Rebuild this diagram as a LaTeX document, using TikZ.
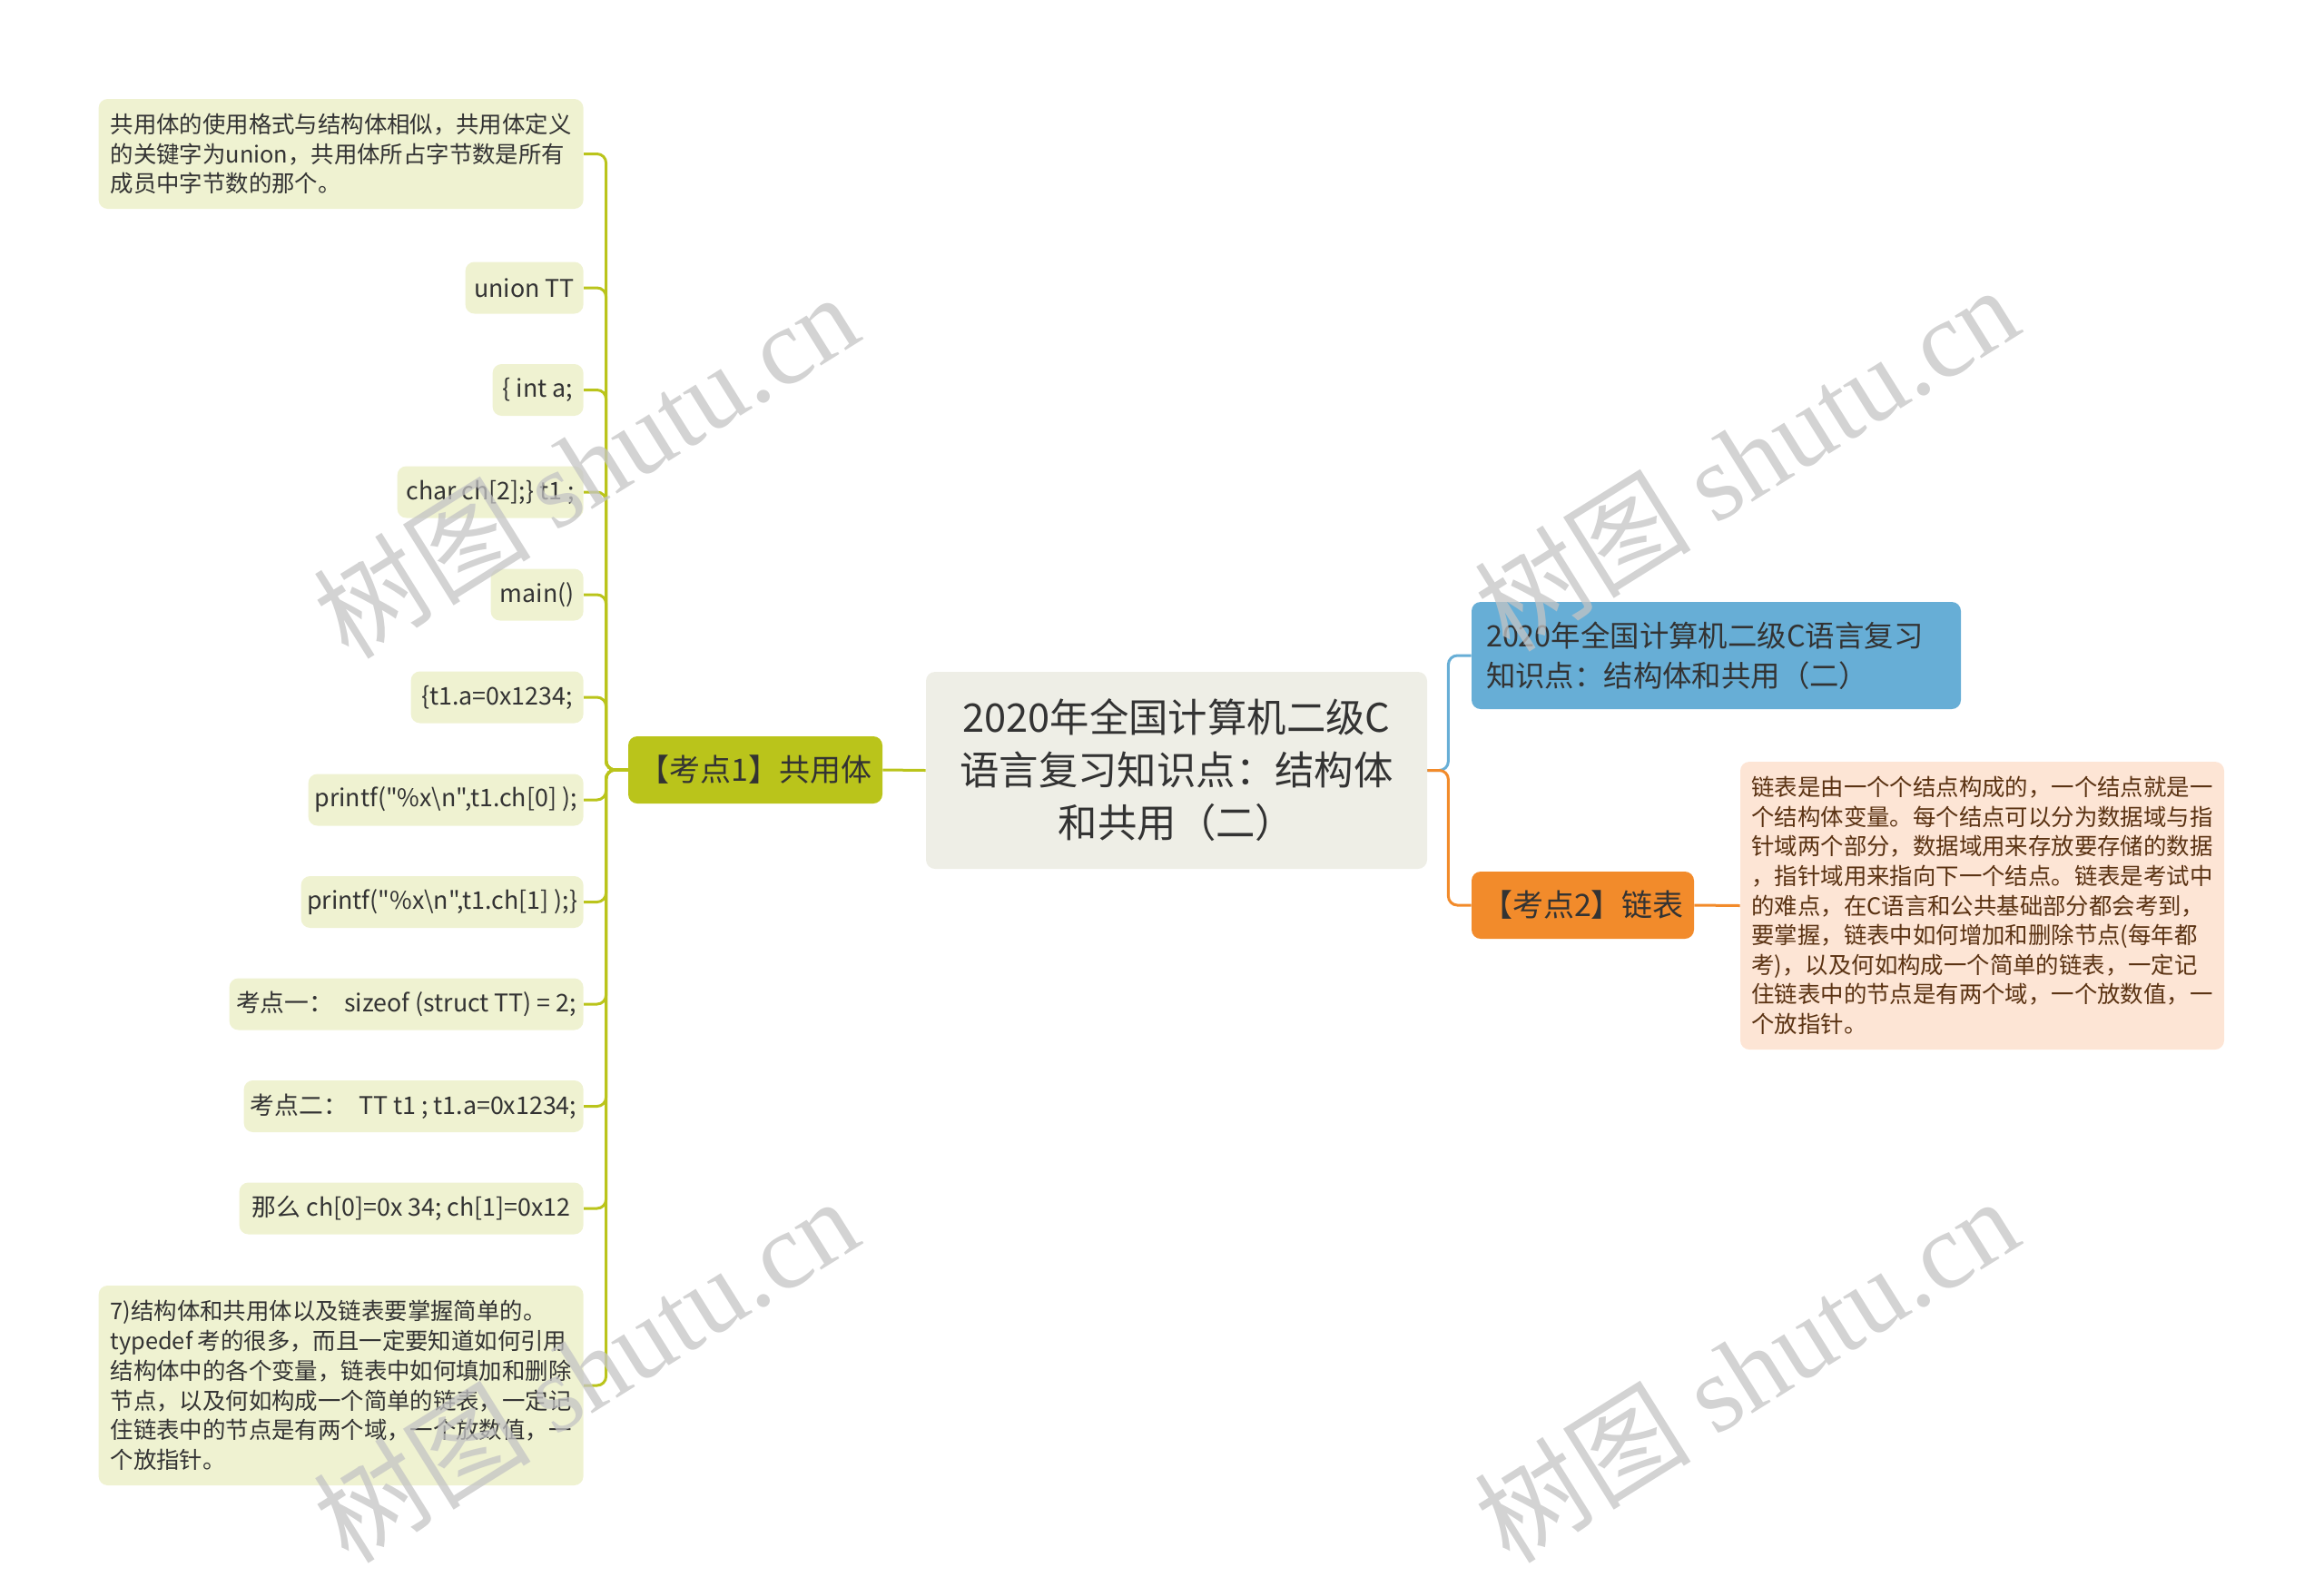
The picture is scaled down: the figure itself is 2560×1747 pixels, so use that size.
\documentclass[tikz,border=0pt]{standalone}
\usepackage{fontspec}
\setmainfont{Noto Sans CJK SC}
\newfontfamily\codefont{Noto Sans CJK SC}
\newfontfamily\wmserif{Liberation Serif}
\usepackage{tikz}

\definecolor{txtdark}{HTML}{333333}
\definecolor{rootfill}{HTML}{EEEEE6}
\definecolor{oliveA}{HTML}{BAC41B}
\definecolor{leafAfill}{HTML}{EFF2D1}
\definecolor{blueB}{HTML}{67AED6}
\definecolor{orangeC}{HTML}{F28B2B}
\definecolor{leafCfill}{HTML}{FDE5D5}
\definecolor{leafCtxt}{HTML}{5A3212}
\definecolor{wmgrey}{HTML}{C4C4C4}

\tikzset{
  every node/.style={text=txtdark, inner sep=0pt},
  rootbox/.style={fill=rootfill, rounded corners=5pt, align=center,
    font=\fontsize{21.7}{29}\selectfont, minimum width=276pt, minimum height=108.5pt},
  topicA/.style={fill=oliveA, rounded corners=5pt, font=\fontsize{17}{20}\selectfont,
    minimum width=140pt, minimum height=37pt},
  topicB/.style={fill=blueB, rounded corners=5pt, align=left, inner xsep=8pt,
    font=\fontsize{16.2}{22}\selectfont, text width=253.5pt, minimum height=59pt},
  topicC/.style={fill=orangeC, rounded corners=5pt, font=\fontsize{17}{20}\selectfont,
    minimum width=122.5pt, minimum height=37pt},
  leafA/.style={fill=leafAfill, rounded corners=5pt, anchor=east,
    font=\fontsize{13.4}{16.3}\selectfont, minimum height=28.5pt},
  noteA/.style={leafA, align=left, minimum width=267pt,
    font=\fontsize{12.7}{16.35}\selectfont},
  noteC/.style={fill=leafCfill, rounded corners=5pt, align=left, minimum width=266.5pt,
    text=leafCtxt, font=\fontsize{12.7}{16.3}\selectfont, minimum height=158.5pt},
  lineA/.style={draw=oliveA, line width=1.5pt, rounded corners=5pt},
  lineB/.style={draw=blueB, line width=1.5pt, rounded corners=5pt},
  lineC/.style={draw=orangeC, line width=1.5pt, rounded corners=5pt},
  wmark/.style={text=wmgrey, opacity=0.75, font=\fontsize{60}{64}\selectfont, rotate=32}
}

\begin{document}
\begin{tikzpicture}[x=0.5pt,y=0.5pt,yscale=-1,xscale=1]
\useasboundingbox (0,0) rectangle (2560,1747);

% root
\node[rootbox] (root) at (1296,848.5) {2020年全国计算机二级C\\语言复习知识点：结构体\\和共用（二）};

% left topic
\node[topicA] (topic1) at (832,848) {【考点1】共用体};

% left leaves
\node[noteA, minimum height=60.5pt] (la1) at (643,169.5) {共用体的使用格式与结构体相似，共用体定义\\的关键字为union，共用体所占字节数是所有\\成员中字节数的那个。};
\node[leafA, minimum width=65pt] (la2) at (643,317) {union TT};
\node[leafA, minimum width=50pt] (la3) at (643,429.5) {\{ int a;};
\node[leafA, minimum width=102.5pt] (la4) at (643,542) {char ch[2];\} t1 ;};
\node[leafA, minimum width=51pt] (la5) at (643,655) {main()};
\node[leafA, minimum width=95pt] (la6) at (643,768) {\{t1.a=0x1234;};
\node[leafA, minimum width=151.5pt] (la7) at (643,881) {\codefont printf("\%x\textbackslash n",t1.ch[0] );};
\node[leafA, minimum width=155.5pt] (la8) at (643,993.5) {\codefont printf("\%x\textbackslash n",t1.ch[1] );\}};
\node[leafA, minimum width=195pt] (la9) at (643,1106) {考点一：\ \ sizeof (struct TT) = 2;};
\node[leafA, minimum width=187pt] (la10) at (643,1218.5) {考点二：\ \ TT t1 ; t1.a=0x1234;};
\node[leafA, minimum width=189.5pt] (la11) at (643,1331) {那么 ch[0]=0x 34; ch[1]=0x12};
\node[noteA, minimum height=110pt] (la12) at (643,1526) {7)结构体和共用体以及链表要掌握简单的。\\typedef~考的很多，而且一定要知道如何引用\\结构体中的各个变量，链表中如何填加和删除\\节点，以及何如构成一个简单的链表，一定记\\住链表中的节点是有两个域，一个放数值，一\\个放指针。};

% right topics
\node[topicB] (topic2) at (1890.5,722) {2020年全国计算机二级C语言复习\\知识点：结构体和共用（二）};
\node[topicC] (topic3) at (1743.5,997) {【考点2】链表};
\node[noteC] (lc1) at (2183.5,997.5) {链表是由一个个结点构成的，一个结点就是一\\个结构体变量。每个结点可以分为数据域与指\\针域两个部分，数据域用来存放要存储的数据\\，指针域用来指向下一个结点。链表是考试中\\的难点，在C语言和公共基础部分都会考到，\\要掌握，链表中如何增加和删除节点(每年都\\考)，以及何如构成一个简单的链表，一定记\\住链表中的节点是有两个域，一个放数值，一\\个放指针。};

% connections
\draw[lineA] (root.west) -- (topic1.east);
\foreach \n in {1,...,12}
  \draw[lineA] (topic1.west) -- ++(-24,0) |- (la\n.east);
\draw[lineB] (root.east) -- ++(23,0) |- (topic2.west);
\draw[lineC] (root.east) -- ++(23,0) |- (topic3.west);
\draw[lineC] (topic3.east) -- (lc1.west);

% watermarks
\node[wmark] (wm1) at (645,512) {树图 {\wmserif shutu.cn}};
\node[wmark] (wm2) at (1923,504) {树图 {\wmserif shutu.cn}};
\node[wmark] (wm3) at (645,1508) {树图 {\wmserif shutu.cn}};
\node[wmark] (wm4) at (1923,1508) {树图 {\wmserif shutu.cn}};

\end{tikzpicture}
\end{document}
